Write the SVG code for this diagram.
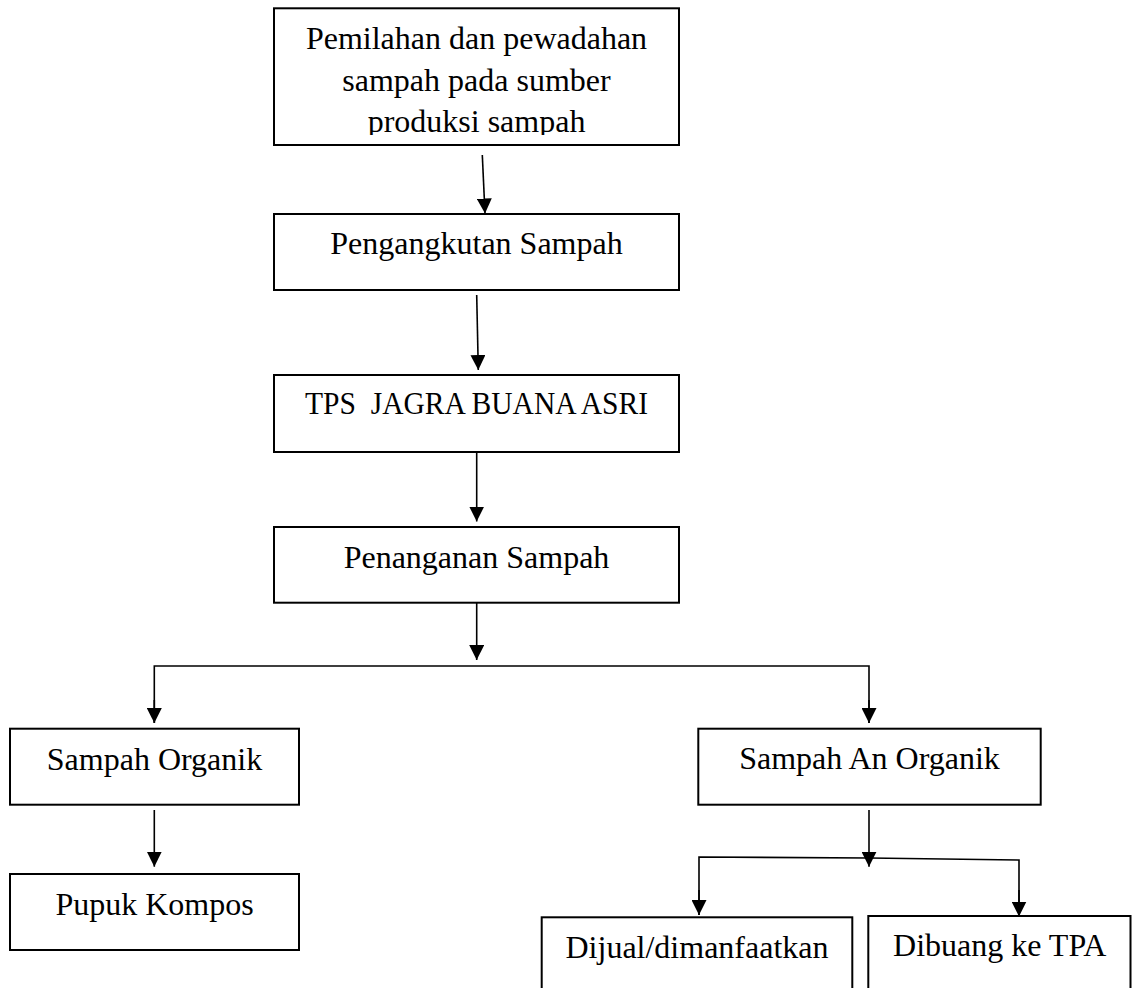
<svg xmlns="http://www.w3.org/2000/svg" width="1132" height="988" viewBox="0 0 1132 988">
  <style>
    .box { fill: #ffffff; stroke: #000000; stroke-width: 2; }
    .lbl { font-family: "Liberation Serif", "Times New Roman", serif; font-size: 32px; fill: #000000; text-anchor: middle; }
    .con { fill: none; stroke: #000000; stroke-width: 1.6; }
  </style>
  <defs>
    <marker id="ah" markerUnits="userSpaceOnUse" markerWidth="15" markerHeight="15" viewBox="0 0 15 15" refX="15" refY="7.5" orient="auto">
      <path d="M0,0 L15,7.5 L0,15 Z" fill="#000000"/>
    </marker>
    <clipPath id="clip1">
      <rect x="274" y="8" width="405" height="127"/>
    </clipPath>
  </defs>
  <rect width="1132" height="988" fill="#ffffff"/>

  <g id="connectors">
    <line class="con" x1="482.3" y1="155" x2="485" y2="213.5" marker-end="url(#ah)"/>
    <line class="con" x1="476.7" y1="295" x2="478.3" y2="370" marker-end="url(#ah)"/>
    <line class="con" x1="476.7" y1="452" x2="476.7" y2="521.5" marker-end="url(#ah)"/>
    <line class="con" x1="476.7" y1="603" x2="476.7" y2="660" marker-end="url(#ah)"/>
    <polyline class="con" points="154.3,723 154.3,666 869,666 869,723"/>
    <line class="con" x1="154.3" y1="700" x2="154.3" y2="723" marker-end="url(#ah)"/>
    <line class="con" x1="869" y1="700" x2="869" y2="723" marker-end="url(#ah)"/>
    <line class="con" x1="154.3" y1="810" x2="154.3" y2="866.7" marker-end="url(#ah)"/>
    <line class="con" x1="869" y1="810" x2="869" y2="866.7" marker-end="url(#ah)"/>
    <polyline class="con" points="699,915 699,857 869,858 1019,860 1019,916.5"/>
    <line class="con" x1="699" y1="890" x2="699" y2="915" marker-end="url(#ah)"/>
    <line class="con" x1="1019" y1="890" x2="1019" y2="916.5" marker-end="url(#ah)"/>
  </g>

  <g id="node-pemilahan">
    <rect class="box" x="274" y="8.3" width="405" height="136.7"/>
    <g clip-path="url(#clip1)">
      <text class="lbl" x="476.5" y="49.3">Pemilahan dan pewadahan</text>
      <text class="lbl" x="476.5" y="90.7">sampah pada sumber</text>
      <text class="lbl" x="476.5" y="132.3">produksi sampah</text>
    </g>
  </g>

  <g id="node-pengangkutan">
    <rect class="box" x="274" y="214" width="405" height="76"/>
    <text class="lbl" x="476.5" y="254">Pengangkutan Sampah</text>
  </g>

  <g id="node-tps">
    <rect class="box" x="274" y="375" width="405" height="77"/>
    <text class="lbl" x="476.5" y="414" textLength="343" lengthAdjust="spacingAndGlyphs" xml:space="preserve">TPS  JAGRA BUANA ASRI</text>
  </g>

  <g id="node-penanganan">
    <rect class="box" x="274" y="527" width="405" height="75.7"/>
    <text class="lbl" x="476.5" y="568">Penanganan Sampah</text>
  </g>

  <g id="node-organik">
    <rect class="box" x="10" y="728.7" width="289" height="76"/>
    <text class="lbl" x="154.5" y="770">Sampah Organik</text>
  </g>

  <g id="node-anorganik">
    <rect class="box" x="698.3" y="728.7" width="342.4" height="76"/>
    <text class="lbl" x="869.5" y="769">Sampah An Organik</text>
  </g>

  <g id="node-kompos">
    <rect class="box" x="10" y="874" width="289" height="76"/>
    <text class="lbl" x="154.5" y="915">Pupuk Kompos</text>
  </g>

  <g id="node-dijual">
    <rect class="box" x="541.7" y="917.3" width="310.6" height="90"/>
    <text class="lbl" x="697" y="958.3">Dijual/dimanfaatkan</text>
  </g>

  <g id="node-dibuang">
    <rect class="box" x="868.3" y="916" width="262.2" height="90"/>
    <text class="lbl" x="999.7" y="956">Dibuang ke TPA</text>
  </g>
</svg>
